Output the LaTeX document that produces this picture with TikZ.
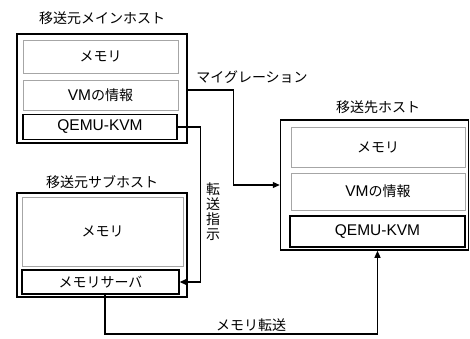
\documentclass[tikz,border=0pt]{standalone}
\usepackage{fontspec}
\setmainfont{Liberation Sans}
\newfontfamily\jpfont{Noto Sans CJK JP}
\usetikzlibrary{arrows.meta}
\begin{document}
\begin{tikzpicture}[x=1pt, y=-1pt,
        hostbox/.style={draw, line width=1.5pt, inner sep=0pt},
        partbox/.style={draw=black!35, line width=0.8pt, inner sep=0pt, font=\fontsize{15.5}{17}\selectfont},
        corebox/.style={draw, line width=1.3pt, inner sep=0pt, font=\fontsize{15.5}{17}\selectfont},
        hosttitle/.style={font=\jpfont\fontsize{14}{16}\selectfont},
        flowlabel/.style={font=\jpfont\fontsize{14}{15}\selectfont, align=center},
        flow/.style={line width=1.2pt, -{Triangle[length=7pt,width=6pt]}}]

        \useasboundingbox (0,0) rectangle (470,338);

        % Nodes
        % source main host
        \node[hosttitle] at (102, 18) (maintitle) {移送元メインホスト};
        \node[hostbox, minimum width=170pt, minimum height=109pt] at (102, 88.5) (mainhost) {};
        \node[partbox, minimum width=155pt, minimum height=33pt] at (100.5, 56.5) (mainmem) {\jpfont\fontsize{14}{16}\selectfont メモリ};
        \node[partbox, minimum width=155pt, minimum height=30pt] at (100.5, 95) (mainvm) {VM{\jpfont\fontsize{14}{16}\selectfont の情報}};
        \node[corebox, minimum width=154pt, minimum height=25pt] at (100, 127) (mainqemu) {QEMU-KVM};

        % source sub host
        \node[hosttitle] at (102, 182) (subtitle) {移送元サブホスト};
        \node[hostbox, minimum width=170pt, minimum height=104pt] at (102, 245) (subhost) {};
        \node[partbox, minimum width=161pt, minimum height=69pt] at (102.5, 231.5) (submem) {\jpfont\fontsize{14}{16}\selectfont メモリ};
        \node[corebox, minimum width=157pt, minimum height=24pt] at (100.5, 282) (subserver) {\jpfont\fontsize{14}{16}\selectfont メモリサーバ};

        % destination host
        \node[hosttitle] at (378, 107) (desttitle) {移送先ホスト};
        \node[hostbox, minimum width=188pt, minimum height=130pt] at (374.5, 185) (dest) {};
        \node[partbox, minimum width=174pt, minimum height=40pt] at (378, 147) (destmem) {\jpfont\fontsize{14}{16}\selectfont メモリ};
        \node[partbox, minimum width=174pt, minimum height=37pt] at (378, 191.5) (destvm) {VM{\jpfont\fontsize{14}{16}\selectfont の情報}};
        \node[corebox, minimum width=175pt, minimum height=31pt] at (377.5, 231.5) (destqemu) {QEMU-KVM};

        % labels
        \node[flowlabel] at (252, 77) (migrlabel) {マイグレーション};
        \node[flowlabel] at (213, 212) (orderlabel) {転\\送\\指\\示};
        \node[flowlabel] at (251, 325) (copylabel) {メモリ転送};

        \coordinate (low) at (377.5, 334);

        \draw[flow] ([yshift=-1.5pt]mainhost.east) -- ++(46, 0) |- (dest.west);
        \draw[flow] (mainqemu.east) -- ++(23, 0) |- (subserver.east);
        \draw[flow] ([xshift=4.5pt]subserver.south) |- (low) -- (dest.south -| destqemu.south);

    \end{tikzpicture}
\end{document}
